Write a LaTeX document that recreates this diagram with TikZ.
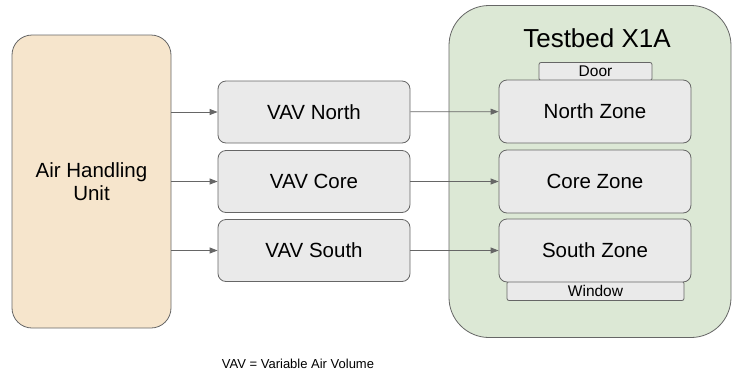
\documentclass[tikz,border=0pt]{standalone}
\usepackage{fontspec}
\setmainfont{Liberation Sans}
\usetikzlibrary{arrows.meta,positioning}

\definecolor{ahufill}{HTML}{F6E5CC}
\definecolor{bedfill}{HTML}{DCE8D5}
\definecolor{boxfill}{HTML}{EAEAEA}
\definecolor{edge}{HTML}{666666}

\tikzset{
  box/.style = {draw=edge, fill=boxfill, rounded corners=8pt, inner sep=0pt,
                font=\fontsize{20.5}{24}\selectfont},
  tag/.style = {draw=edge, fill=boxfill, rounded corners=2pt, inner sep=0pt,
                font=\fontsize{15.5}{18}\selectfont},
  flow/.style = {draw=edge, -{Triangle[length=8pt,width=6pt]}},
}

\begin{document}
\begin{tikzpicture}[x=1pt, y=-1pt, line width=0.8pt]
				\useasboundingbox (0, 0) rectangle (732, 373);

				% air handling unit
				\node[box, fill=ahufill, rounded corners=20pt, minimum width=159pt, minimum height=293pt,
				      align=center] (ahu) at (91.5, 181.5) {Air Handling\\[-1pt]Unit};

				% VAV boxes
				\node[box, minimum width=192pt, minimum height=62pt] (vavn) at (314, 112) {VAV North};
				\node[box, minimum width=192pt, minimum height=62pt] (vavc) at (314, 181.5) {VAV Core};
				\node[box, minimum width=192pt, minimum height=62pt] (vavs) at (314, 250.5) {VAV South};

				% testbed
				\node[draw=edge, fill=bedfill, rounded corners=40pt, minimum width=282pt, minimum height=332pt,
				      inner sep=0pt] (bed) at (590, 171.5) {};
				\node[font=\fontsize{26}{30}\selectfont, inner sep=0pt] (title) at (597, 38) {Testbed X1A};

				\node[tag, minimum width=113pt, minimum height=18pt] (door) at (595.5, 71.5) {Door};
				\node[tag, minimum width=177pt, minimum height=19pt] (window) at (595.5, 291) {Window};

				\node[box, minimum width=192pt, minimum height=63pt] (nzone) at (595, 111.5) {North Zone};
				\node[box, minimum width=192pt, minimum height=63pt] (czone) at (595, 181.5) {Core Zone};
				\node[box, minimum width=192pt, minimum height=63pt] (szone) at (595, 250.5) {South Zone};

				\node[font=\fontsize{13}{15}\selectfont, inner sep=0pt] (note) at (298, 364) {VAV = Variable Air Volume};

				% air flow
				\draw[flow] (ahu.east |- vavn) -- (vavn);
				\draw[flow] (ahu.east |- vavc) -- (vavc);
				\draw[flow] (ahu.east |- vavs) -- (vavs);

				\draw[flow] (vavn) -- (nzone);
				\draw[flow] (vavc) -- (czone);
				\draw[flow] (vavs) -- (szone);
			\end{tikzpicture}
\end{document}
